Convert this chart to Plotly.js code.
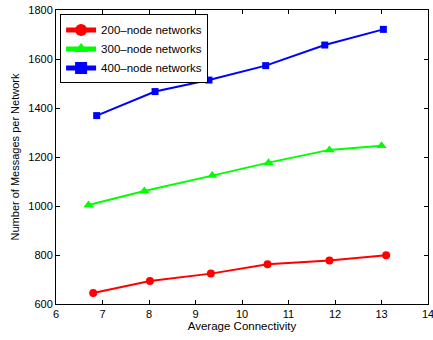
<!DOCTYPE html>
<html><head><meta charset="utf-8">
<script src="https://cdn.plot.ly/plotly-3.0.1.min.js"></script>
<style>html,body{margin:0;padding:0;background:#fff;}#chart{width:433px;height:340px;}</style>
</head><body><div id="chart"></div>
<script>
var names = ["200\u2013node networks", "300\u2013node networks", "400\u2013node networks"];
var x200 = [6.80, 8.02, 9.33, 10.55, 11.88, 13.10];
var y200 = [645, 694, 724, 762, 778, 799];
var x300 = [6.70, 7.90, 9.36, 10.57, 11.88, 13.00];
var y300 = [1004, 1061, 1124, 1177, 1229, 1246];
var x400 = [6.875, 8.13, 9.29, 10.51, 11.78, 13.04];
var y400 = [1369, 1467, 1514, 1573, 1657, 1721];
var xTicks = [6, 7, 8, 9, 10, 11, 12, 13, 14];
var yTicks = [600, 800, 1000, 1200, 1400, 1600, 1800];

var FONT = "Liberation Sans, Arial, sans-serif";
var traces = [
  {x: x200, y: y200, name: names[0], mode: "lines+markers", line: {color: "#ff0000", width: 2}, marker: {symbol: "circle", size: 8, color: "#ff0000"}},
  {x: x300, y: y300, name: names[1], mode: "lines+markers", line: {color: "#00ff00", width: 2}, marker: {symbol: "triangle-up", size: 9, color: "#00ff00"}},
  {x: x400, y: y400, name: names[2], mode: "lines+markers", line: {color: "#0000ff", width: 2}, marker: {symbol: "square", size: 7, color: "#0000ff"}}
];
var axisCommon = {showgrid: false, zeroline: false, showline: true, linecolor: "#000", linewidth: 1, mirror: "ticks", ticks: "inside", ticklen: 4, tickcolor: "#000", ticklabeloverflow: "allow", tickfont: {family: FONT, size: 11, color: "#000"}};
var layout = {
  width: 433, height: 340,
  margin: {l: 56, r: 5, t: 10, b: 36},
  paper_bgcolor: "#fff", plot_bgcolor: "#fff",
  showlegend: true,
  legend: {x: 0.011, y: 0.985, xanchor: "left", yanchor: "top", bordercolor: "#000", borderwidth: 1, bgcolor: "#fff", font: {family: FONT, size: 11.5, color: "#000"}, tracegroupgap: 0, itemsizing: "constant"},
  xaxis: Object.assign({}, axisCommon, {range: [6, 14], tickvals: xTicks, ticktext: xTicks.map(String), title: {text: "Average Connectivity", standoff: 1, font: {family: FONT, size: 11.5, color: "#000"}}}),
  yaxis: Object.assign({}, axisCommon, {range: [600, 1800], tickvals: yTicks, ticktext: yTicks.map(String), title: {text: "Number of Messages per Network", standoff: 6, font: {family: FONT, size: 11, color: "#000"}}})
};
Plotly.newPlot("chart", traces, layout, {displayModeBar: false, staticPlot: true});
</script></body></html>
